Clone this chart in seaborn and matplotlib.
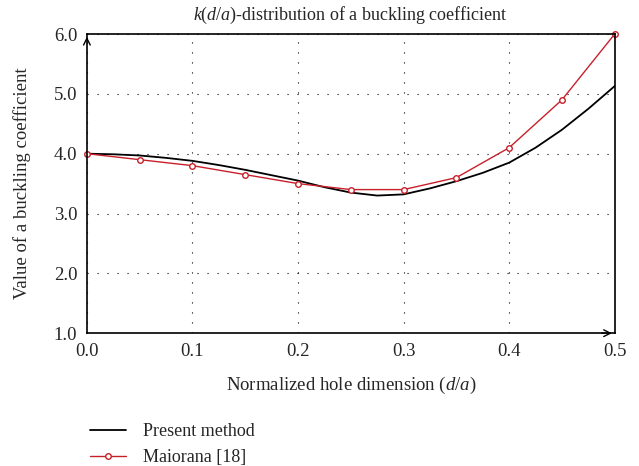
import numpy as np
import pandas as pd
import seaborn as sns
import matplotlib.pyplot as plt

# data
x_present = [0.0, 0.025, 0.05, 0.075, 0.1, 0.125, 0.15, 0.175, 0.2, 0.225,
             0.25, 0.275, 0.3, 0.325, 0.35, 0.375, 0.4, 0.425, 0.45, 0.475, 0.5]
k_present = [4.00, 3.99, 3.97, 3.93, 3.88, 3.81, 3.73, 3.64, 3.55, 3.44,
             3.35, 3.30, 3.32, 3.42, 3.54, 3.68, 3.85, 4.10, 4.40, 4.75, 5.13]

x_maiorana = [0.0, 0.05, 0.1, 0.15, 0.2, 0.25, 0.3, 0.35, 0.4, 0.45, 0.5]
k_maiorana = [4.0, 3.9, 3.8, 3.65, 3.5, 3.4, 3.4, 3.6, 4.1, 4.9, 6.0]

x_ticks = [0.0, 0.1, 0.2, 0.3, 0.4, 0.5]
y_ticks = [1.0, 2.0, 3.0, 4.0, 5.0, 6.0]

sns.set_theme(style="white")
plt.rcParams["font.family"] = ["Liberation Serif", "DejaVu Serif"]
plt.rcParams["mathtext.fontset"] = "custom"
plt.rcParams["mathtext.it"] = "Liberation Serif:italic"
plt.rcParams["mathtext.rm"] = "Liberation Serif"

fig = plt.figure(figsize=(6.39, 4.66), dpi=100)
ax = fig.add_axes([0.136, 0.285, 0.826, 0.642])

df_p = pd.DataFrame({"x": x_present, "k": k_present})
df_m = pd.DataFrame({"x": x_maiorana, "k": k_maiorana})

sns.lineplot(data=df_p, x="x", y="k", ax=ax, color="black", lw=1.3,
             label="Present method")
sns.lineplot(data=df_m, x="x", y="k", ax=ax, color="#c8202a", lw=1.0,
             marker="o", markersize=4, markerfacecolor="white",
             markeredgecolor="#c8202a", markeredgewidth=1.0,
             label="Maiorana [18]", clip_on=False)

ax.set_xlim(0, 0.5)
ax.set_ylim(1.0, 6.0)
ax.set_xticks(x_ticks)
ax.set_yticks(y_ticks)
ax.set_xticklabels([f"{v:.1f}" for v in x_ticks])
ax.set_yticklabels([f"{v:.1f}" for v in y_ticks])
ax.tick_params(length=0, labelsize=13.5, pad=7)
ax.grid(True, color="black", linestyle=(0, (1, 8)), lw=0.8)

for s in ax.spines.values():
    s.set_color("black")
    s.set_linewidth(1.2)

# arrow heads on the axes
ax.annotate("", xy=(0, 1.0), xytext=(0, 0.97), xycoords="axes fraction",
            arrowprops=dict(arrowstyle="->", lw=1.0, color="black"))
ax.annotate("", xy=(1.0, 0), xytext=(0.97, 0), xycoords="axes fraction",
            arrowprops=dict(arrowstyle="->", lw=1.0, color="black"))

ax.set_title("$k$($d$/$a$)-distribution of a buckling coefficient", fontsize=13, pad=10)
ax.set_xlabel("Normalized hole dimension ($d$/$a$)", fontsize=13.5, labelpad=11)
ax.set_ylabel("Value of a buckling coefficient", fontsize=13.5, labelpad=16)

ax.legend(loc="upper left", bbox_to_anchor=(0.130, 0.108), bbox_transform=fig.transFigure,
          frameon=False, fontsize=13, handlelength=1.95, handletextpad=0.95,
          labelspacing=0.5, borderaxespad=0)

fig.savefig("out.png", dpi=100)
